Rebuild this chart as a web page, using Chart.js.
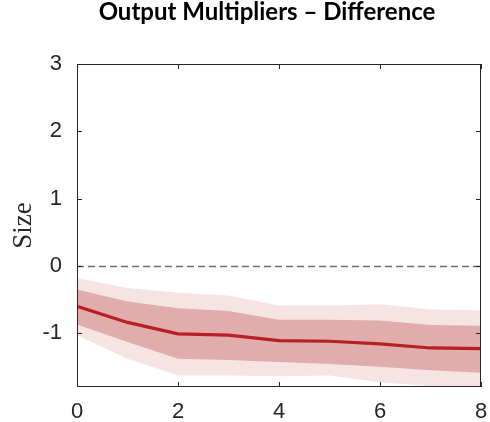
<!DOCTYPE html>
<html>
<head>
<meta charset="utf-8">
<script src="https://cdn.jsdelivr.net/npm/chart.js@4.4.1/dist/chart.umd.min.js"></script>
<style>
  html, body { margin: 0; padding: 0; background: #fff; }
  #wrap { width: 490px; height: 422px; position: relative; }
</style>
</head>
<body>
<div id="wrap"><canvas id="chart"></canvas></div>
<script>
// horizons and response of output multipliers (difference)
const horizons = [0, 1, 2, 3, 4, 5, 6, 7, 8];
const median = [-0.60, -0.84, -1.01, -1.03, -1.11, -1.12, -1.16, -1.22, -1.23];
const band68Upper = [-0.35, -0.53, -0.63, -0.67, -0.80, -0.80, -0.81, -0.88, -0.89];
const band68Lower = [-0.87, -1.13, -1.38, -1.40, -1.43, -1.46, -1.50, -1.55, -1.59];
const band90Upper = [-0.18, -0.33, -0.40, -0.44, -0.59, -0.59, -0.57, -0.65, -0.66];
const band90Lower = [-1.03, -1.38, -1.63, -1.63, -1.64, -1.63, -1.73, -1.79, -1.82];
const yTicks = [-1, 0, 1, 2, 3];
const xTicks = [0, 2, 4, 6, 8];

const axisColor = '#262626';
const pts = arr => arr.map((v, i) => ({ x: horizons[i], y: v }));

// title, box outline, inward ticks and zero line
const decor = {
  id: 'decor',
  beforeDatasetsDraw(chart) {
    const { ctx, chartArea: a, scales: { y } } = chart;
    const y0 = Math.round(y.getPixelForValue(0)) + 0.5;
    ctx.save();
    ctx.strokeStyle = '#6e6e6e';
    ctx.lineWidth = 1.3;
    ctx.setLineDash([7, 4]);
    ctx.beginPath();
    ctx.moveTo(a.left, y0);
    ctx.lineTo(a.right, y0);
    ctx.stroke();
    ctx.restore();
  },
  afterDraw(chart) {
    const { ctx, chartArea: a, scales: { x, y } } = chart;
    ctx.save();
    ctx.strokeStyle = axisColor;
    ctx.lineWidth = 1;
    ctx.strokeRect(a.left + 0.5, a.top + 0.5, a.right - a.left - 1, a.bottom - a.top - 1);
    ctx.beginPath();
    const t = 5;
    xTicks.forEach(v => {
      const px = Math.round(x.getPixelForValue(v)) + 0.5;
      ctx.moveTo(px, a.bottom); ctx.lineTo(px, a.bottom - t);
      ctx.moveTo(px, a.top); ctx.lineTo(px, a.top + t);
    });
    yTicks.forEach(v => {
      const py = Math.round(y.getPixelForValue(v)) + 0.5;
      ctx.moveTo(a.left, py); ctx.lineTo(a.left + t, py);
      ctx.moveTo(a.right, py); ctx.lineTo(a.right - t, py);
    });
    ctx.stroke();

    ctx.fillStyle = '#000';
    ctx.font = 'bold 24px Lato';
    ctx.textAlign = 'center';
    ctx.textBaseline = 'alphabetic';
    ctx.fillText('Output Multipliers \u2013 Difference', 267, 20);
    ctx.restore();
  }
};

new Chart(document.getElementById('chart'), {
  type: 'line',
  data: {
    datasets: [
      {
        data: pts(median),
        borderColor: '#b81f25',
        borderWidth: 3.2,
        pointRadius: 0,
        fill: false,
        order: 0
      },
      {
        data: pts(band68Upper),
        borderWidth: 0,
        pointRadius: 0,
        backgroundColor: '#e0acac',
        fill: '+1',
        order: 1
      },
      {
        data: pts(band68Lower),
        borderWidth: 0,
        pointRadius: 0,
        fill: false,
        order: 1
      },
      {
        data: pts(band90Upper),
        borderWidth: 0,
        pointRadius: 0,
        backgroundColor: '#f6e4e4',
        fill: '+1',
        order: 2
      },
      {
        data: pts(band90Lower),
        borderWidth: 0,
        pointRadius: 0,
        fill: false,
        order: 2
      }
    ]
  },
  options: {
    responsive: true,
    maintainAspectRatio: false,
    animation: false,
    layout: { padding: { top: 64, right: 9, left: 0, bottom: 0 } },
    plugins: {
      legend: { display: false },
      tooltip: { enabled: false }
    },
    scales: {
      x: {
        type: 'linear',
        min: 0,
        max: 8,
        afterBuildTicks: s => { s.ticks = xTicks.map(v => ({ value: v })); },
        afterFit: s => { s.height = 35; s.paddingLeft = 0; s.paddingRight = 0; },
        grid: { display: false, drawTicks: false },
        border: { display: false },
        ticks: {
          color: axisColor,
          font: { family: 'Liberation Sans', size: 22 },
          padding: 12,
          maxRotation: 0,
          callback: v => String(v)
        }
      },
      y: {
        min: -1.8,
        max: 3,
        afterBuildTicks: s => { s.ticks = yTicks.map(v => ({ value: v })); },
        afterFit: s => { s.width = 77; s.paddingTop = 0; s.paddingBottom = 0; },
        grid: { display: false, drawTicks: false },
        border: { display: false },
        title: {
          display: true,
          text: 'Size',
          color: '#262626',
          font: { family: 'Liberation Serif', size: 27 },
          padding: { top: 8, bottom: 0 }
        },
        ticks: {
          color: axisColor,
          font: { family: 'Liberation Sans', size: 22 },
          padding: 15,
          callback: v => String(v)
        }
      }
    }
  },
  plugins: [decor]
});
</script>
</body>
</html>
